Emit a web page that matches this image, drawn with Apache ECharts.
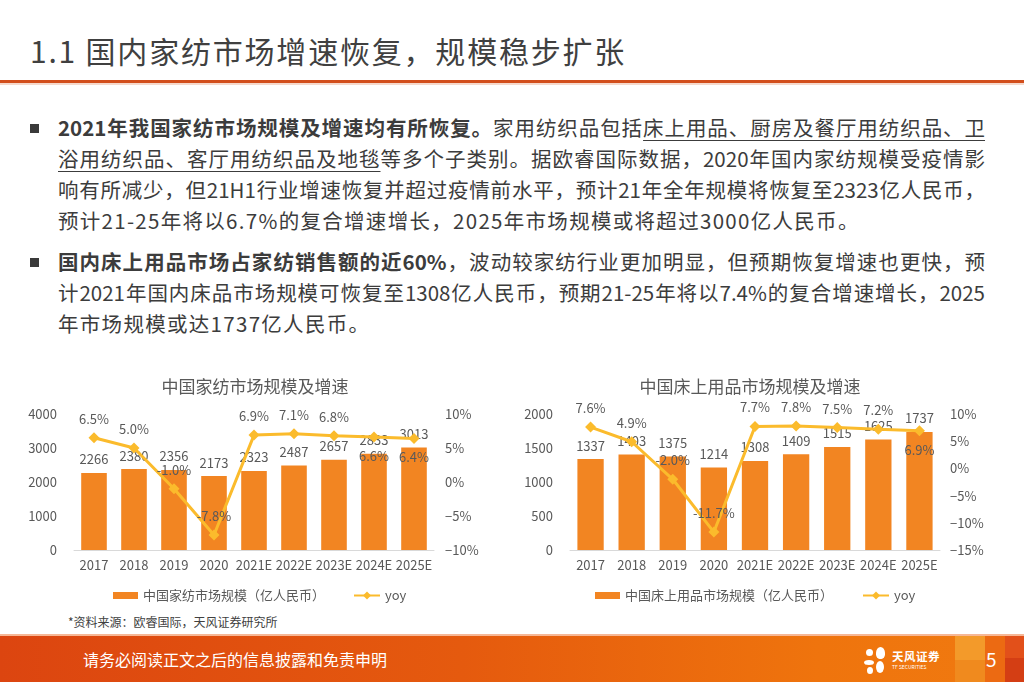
<!DOCTYPE html>
<html><head><meta charset="utf-8">
<script src="https://cdn.jsdelivr.net/npm/echarts@6/dist/echarts.min.js"></script>
<style>
body{margin:0;width:1024px;height:682px;overflow:hidden;background:#fff;font-family:"Noto Sans CJK SC","Noto Sans",sans-serif;position:relative;color:#3c3c3c;}
#title{position:absolute;left:30px;top:29px;font-size:30px;line-height:42px;color:#404040;letter-spacing:1.8px;white-space:nowrap;}
#rule{position:absolute;left:0;top:80px;width:1024px;height:3px;background:#D24E1C;}
#rule2{position:absolute;left:0;top:83px;width:1024px;height:2px;background:#F6D9CC;}
.bul{position:absolute;left:30px;width:9px;height:9px;background:#3a3a3a;}
.txt{position:absolute;left:58px;width:927px;font-size:20.5px;line-height:31px;}
.ln{display:block;height:31px;white-space:nowrap;text-align:justify;text-align-last:justify;text-justify:inter-character;}
.ln.last{text-align-last:left;letter-spacing:1.3px;}
b{font-weight:700;}
u{text-decoration:underline;text-decoration-thickness:1px;text-underline-offset:4px;}
#c1{position:absolute;left:20px;top:370px;width:470px;height:240px;}
#c2{position:absolute;left:510px;top:370px;width:480px;height:240px;}
#src{position:absolute;left:68px;top:613px;font-size:12px;line-height:18px;color:#404040;}
#foot{position:absolute;left:0;top:636px;width:1024px;height:46px;background:linear-gradient(90deg,#DC4510 0%,#E55A0E 45%,#EF740D 80%,#F07A10 100%);}
#footline{position:absolute;left:0;top:634px;width:1024px;height:2px;background:#F6B796;}
#ftxt{position:absolute;left:83px;top:647px;font-size:16px;line-height:24px;color:#fff;}
#pg{position:absolute;left:986px;top:646px;font-size:19px;line-height:26px;color:#fff;}
.sq{position:absolute;}
#logo{position:absolute;left:864px;top:647px;width:80px;height:28px;}
#logo .t1{position:absolute;left:28px;top:2px;font-size:11.5px;font-weight:700;color:#fff;line-height:14px;letter-spacing:0.5px;}
#logo .t2{position:absolute;left:28px;top:17px;font-size:5px;color:#fff;line-height:6px;}
.pt{position:absolute;background:#fff;border-radius:50%;}
</style></head><body>
<div id="title">1.1 国内家纺市场增速恢复，规模稳步扩张</div>
<div id="rule"></div><div id="rule2"></div>

<div class="bul" style="top:124px"></div>
<div class="txt" style="top:112px">
<div class="ln"><b>2021年我国家纺市场规模及增速均有所恢复。</b>家用纺织品包括<u>床上用品、厨房及餐厅用纺织品、卫</u></div>
<div class="ln"><u>浴用纺织品、客厅用纺织品及地毯</u>等多个子类别。据欧睿国际数据，2020年国内家纺规模受疫情影</div>
<div class="ln">响有所减少，但21H1行业增速恢复并超过疫情前水平，预计21年全年规模将恢复至2323亿人民币，</div>
<div class="ln last">预计21-25年将以6.7%的复合增速增长，2025年市场规模或将超过3000亿人民币。</div>
</div>

<div class="bul" style="top:258px"></div>
<div class="txt" style="top:246px">
<div class="ln"><b>国内床上用品市场占家纺销售额的近60%</b>，波动较家纺行业更加明显，但预期恢复增速也更快，预</div>
<div class="ln">计2021年国内床品市场规模可恢复至1308亿人民币，预期21-25年将以7.4%的复合增速增长，2025</div>
<div class="ln last">年市场规模或达1737亿人民币。</div>
</div>

<div id="c1"></div>
<div id="c2"></div>
<div id="src">*资料来源：欧睿国际，天风证券研究所</div>

<div id="footline"></div>
<div id="foot"></div>
<div class="sq" style="left:955px;top:636px;width:30px;height:24px;background:#F39A2A;"></div>
<div class="sq" style="left:955px;top:660px;width:30px;height:22px;background:#F08A1E;"></div>
<div class="sq" style="left:985px;top:636px;width:20px;height:46px;background:#EC6A12;"></div>
<div class="sq" style="left:1005px;top:636px;width:19px;height:22px;background:#E2501A;"></div>
<div class="sq" style="left:1005px;top:658px;width:19px;height:24px;background:#D43E14;"></div>
<div id="ftxt">请务必阅读正文之后的信息披露和免责申明</div>
<div id="logo">
  <div class="pt" style="left:2px;top:2px;width:7px;height:7px;"></div>
  <div class="pt" style="left:12px;top:0px;width:9px;height:12px;border-radius:50% 50% 40% 40%;"></div>
  <div class="pt" style="left:0px;top:13px;width:10px;height:5px;"></div>
  <div class="pt" style="left:12px;top:14px;width:8px;height:12px;"></div>
  <div class="pt" style="left:3px;top:20px;width:6px;height:7px;"></div>
  <div class="t1">天风证券</div>
  <div class="t2">TF SECURITIES</div>
</div>
<div id="pg">5</div>

<script>
// ---- data ----
const categories = ['2017','2018','2019','2020','2021E','2022E','2023E','2024E','2025E'];
const homeTextileSize = [2266,2380,2356,2173,2323,2487,2657,2833,3013];
const homeTextileYoy = [6.5,5.0,-1.0,-7.8,6.9,7.1,6.8,6.6,6.4];
const beddingSize = [1337,1403,1375,1214,1308,1409,1515,1625,1737];
const beddingYoy = [7.6,4.9,-2.0,-11.7,7.7,7.8,7.5,7.2,6.9];
const chart1Title = '中国家纺市场规模及增速';
const chart2Title = '中国床上用品市场规模及增速';
const chart1BarName = '中国家纺市场规模（亿人民币）';
const chart2BarName = '中国床上用品市场规模（亿人民币）';
const lineName = 'yoy';
const chart1LeftAxis = {min:0,max:4000,interval:1000};
const chart1RightAxis = {min:-10,max:10,interval:5};
const chart2LeftAxis = {min:0,max:2000,interval:500};
const chart2RightAxis = {min:-15,max:10,interval:5};

const BAR = '#F28522', LINE = '#FBBB2C', TXT = '#595959';
const FONT = '"Noto Sans CJK SC","Noto Sans",sans-serif';

function makeOption(cfg){
  const lineData = cfg.yoy.map((v,i)=>({value:v,label:{position: cfg.below.includes(i)?'bottom':'top'}}));
  return {
    animation:false,
    textStyle:{fontFamily:FONT},
    title:{text:cfg.title,left:'center',top:3,textStyle:{fontSize:17,fontWeight:'normal',color:TXT,fontFamily:FONT}},
    grid:{left:cfg.grid[0],right:cfg.grid[1],top:44,bottom:60},
    legend:[
      {data:[{name:cfg.barName,icon:'rect'}],left:cfg.leg[0],top:214,itemWidth:25,itemHeight:7,textStyle:{fontSize:13,color:TXT,fontFamily:FONT},itemGap:0},
      {data:[{name:lineName}],left:cfg.leg[1],top:214,itemWidth:26,itemHeight:10,textStyle:{fontSize:13,color:TXT,fontFamily:FONT}}
    ],
    xAxis:{type:'category',data:categories,axisTick:{show:false},
      axisLine:{lineStyle:{color:'#D9D9D9',width:1}},
      axisLabel:{fontSize:13,color:TXT,margin:9,interval:0}},
    yAxis:[
      {type:'value',min:cfg.la.min,max:cfg.la.max,interval:cfg.la.interval,splitLine:{show:false},
        axisLine:{show:false},axisTick:{show:false},axisLabel:{fontSize:13,color:TXT,margin:cfg.lm,formatter:v=>String(v)}},
      {type:'value',min:cfg.ra.min,max:cfg.ra.max,interval:cfg.ra.interval,splitLine:{show:false},
        axisLine:{show:false},axisTick:{show:false},
        axisLabel:{fontSize:13,color:TXT,margin:cfg.rm,formatter:v=>(v+'%').replace('-','−')}}
    ],
    series:[
      {name:cfg.barName,type:'bar',data:cfg.size,barWidth:'64%',yAxisIndex:0,
        itemStyle:{color:BAR},
        label:{show:true,position:'top',distance:7,fontSize:13,color:TXT}},
      {name:lineName,type:'line',data:lineData,yAxisIndex:1,
        symbol:'diamond',symbolSize:11,lineStyle:{color:LINE,width:3},itemStyle:{color:LINE},
        label:{show:true,distance:7,fontSize:13,color:TXT,formatter:p=>p.value.toFixed(1)+'%'},z:5}
    ]
  };
}

const c1 = echarts.init(document.getElementById('c1'));
c1.setOption(makeOption({title:chart1Title,barName:chart1BarName,size:homeTextileSize,yoy:homeTextileYoy,
  below:[7,8],grid:[54,56],leg:[88,328],la:chart1LeftAxis,ra:chart1RightAxis,lm:17,rm:11}));
const c2 = echarts.init(document.getElementById('c2'));
c2.setOption(makeOption({title:chart2Title,barName:chart2BarName,size:beddingSize,yoy:beddingYoy,
  below:[8],grid:[60,50],leg:[80,347],la:chart2LeftAxis,ra:chart2RightAxis,lm:17,rm:10}));
</script>
</body></html>
